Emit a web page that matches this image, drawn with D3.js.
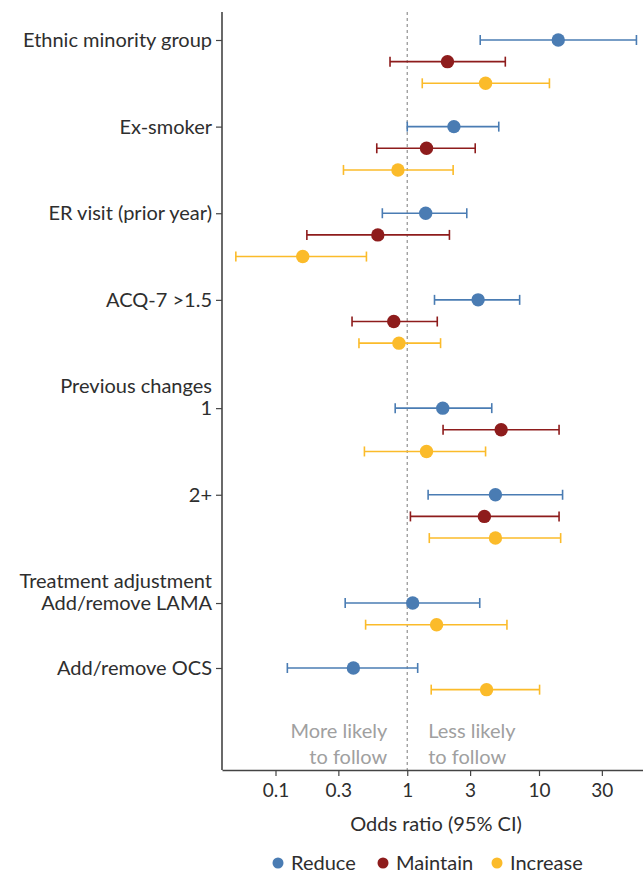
<!DOCTYPE html>
<html><head><meta charset="utf-8">
<script src="https://cdn.jsdelivr.net/npm/d3@7"></script>
<style>
body{margin:0;background:#fff;}
svg{display:block;font-family:Lato,"Noto Sans",sans-serif;}
</style></head>
<body>
<svg id="chart" width="643" height="873"></svg>
<script>
// ---- data ----
const seriesNames = ["Reduce", "Maintain", "Increase"];
const seriesColors = ["#4a7cb3", "#8e1c1c", "#fbbb2a"];
// row labels and their slot positions
const rowLabels = ["Ethnic minority group", "Ex-smoker", "ER visit (prior year)", "ACQ-7 >1.5", "1", "2+", "Add/remove LAMA", "Add/remove OCS"];
const rowSlots = [0, 4, 8, 12, 17, 21, 26, 29];
const headerLabels = ["Previous changes", "Treatment adjustment"];
const headerSlots = [16, 25];
// estimates: series index, slot, OR, lower, upper
const estSeries = [0,1,2, 0,1,2, 0,1,2, 0,1,2, 0,1,2, 0,1,2, 0,2, 0,2];
const estSlot   = [0,1,2, 4,5,6, 8,9,10, 12,13,14, 17,18,19, 21,22,23, 26,27, 29,30];
const estOR     = [14.0,2.02,3.93, 2.26,1.40,0.85, 1.38,0.598,0.161, 3.45,0.79,0.865, 1.86,5.16,1.40, 4.67,3.85,4.67, 1.10,1.67, 0.39,4.0];
const estLo     = [3.58,0.74,1.30, 1.00,0.587,0.328, 0.647,0.173,0.050, 1.61,0.381,0.430, 0.81,1.87,0.473, 1.44,1.057,1.47, 0.338,0.483, 0.123,1.52];
const estHi     = [54.9,5.55,12.0, 4.95,3.28,2.23, 2.83,2.09,0.490, 7.13,1.69,1.79, 4.38,14.2,3.93, 15.1,14.2,14.6, 3.55,5.71, 1.20,10.1];
const xTicks = [0.1, 0.3, 1, 3, 10, 30];
const xTickLabels = ["0.1", "0.3", "1", "3", "10", "30"];
const xTitle = "Odds ratio (95% CI)";
const leftNote = ["More likely", "to follow"];
const rightNote = ["Less likely", "to follow"];

// ---- drawing ----
const svg = d3.select("#chart");
const textColor = "#2e2e2e";
const font = "Lato,'Noto Sans',sans-serif";
const axisX = 222, axisY = 770, plotTop = 12, plotRight = 643;

const x = d3.scaleLog().domain([0.1, 10]).range([275.5, 539]);
x.domain([x.invert(axisX), x.invert(plotRight)]).range([axisX, plotRight]);
const y = d3.scaleLinear().domain([0, 29]).range([40, 668]);

// reference line at 1
svg.append("line")
  .attr("x1", x(1)).attr("x2", x(1)).attr("y1", plotTop).attr("y2", axisY)
  .attr("stroke", "#999").attr("stroke-width", 1.3).attr("stroke-dasharray", "3,3");

// notes
const noteG = svg.append("g").attr("fill", "#a0a0a0").style("font-size", "20px");
leftNote.forEach((t, i) => noteG.append("text").attr("x", x(1) - 20).attr("y", 738 + i * 26).attr("text-anchor", "end").text(t));
rightNote.forEach((t, i) => noteG.append("text").attr("x", x(1) + 21).attr("y", 738 + i * 26).attr("text-anchor", "start").text(t));

// x axis
const xAxis = d3.axisBottom(x).tickValues(xTicks).tickFormat((d, i) => xTickLabels[i]).tickSize(6).tickSizeOuter(0);
const gx = svg.append("g").attr("transform", `translate(0,${axisY})`).call(xAxis);
gx.select(".domain").attr("stroke", "#444").attr("stroke-width", 1.6);
gx.selectAll(".tick line").attr("stroke", "#444").attr("stroke-width", 1.2);
gx.selectAll(".tick text").attr("fill", textColor).style("font-size", "19px").style("font-family", font).attr("y", 9).attr("dy", "0.95em");

// y axis
const yAxis = d3.axisLeft(y).tickValues(rowSlots).tickFormat((d, i) => rowLabels[i]).tickSize(6).tickSizeOuter(0);
const gy = svg.append("g").attr("transform", `translate(${axisX},0)`).call(yAxis);
gy.select(".domain").attr("d", `M0,${plotTop}V${axisY}`).attr("stroke", "#444").attr("stroke-width", 1.6);
gy.selectAll(".tick line").attr("stroke", "#444").attr("stroke-width", 1.2);
gy.selectAll(".tick text").attr("fill", textColor).style("font-size", "20px").style("font-family", font).attr("x", -10);

// headers
headerLabels.forEach((t, i) => svg.append("text").attr("x", axisX - 10).attr("y", y(headerSlots[i])).attr("dy", "0.32em")
  .attr("text-anchor", "end").attr("fill", textColor).style("font-size", "20px").text(t));

// x title
svg.append("text").attr("x", 436).attr("y", 831).attr("text-anchor", "middle").attr("fill", textColor).style("font-size", "20px").text(xTitle);

// estimates
const capH = 5;
const est = estOR.map((v, i) => ({s: estSeries[i], slot: estSlot[i], or: v, lo: estLo[i], hi: estHi[i]}));
const eg = svg.append("g");
est.forEach(d => {
  const c = seriesColors[d.s], yy = y(d.slot);
  const g = eg.append("g").attr("stroke", c).attr("stroke-width", 1.6);
  g.append("line").attr("x1", x(d.lo)).attr("x2", x(d.hi)).attr("y1", yy).attr("y2", yy);
  g.append("line").attr("x1", x(d.lo)).attr("x2", x(d.lo)).attr("y1", yy - capH).attr("y2", yy + capH);
  g.append("line").attr("x1", x(d.hi)).attr("x2", x(d.hi)).attr("y1", yy - capH).attr("y2", yy + capH);
  eg.append("circle").attr("cx", x(d.or)).attr("cy", yy).attr("r", 6.7).attr("fill", c);
});

// legend
const legX = [278, 383, 497];
const lg = svg.append("g");
seriesNames.forEach((n, i) => {
  lg.append("circle").attr("cx", legX[i]).attr("cy", 863).attr("r", 5.5).attr("fill", seriesColors[i]);
  lg.append("text").attr("x", legX[i] + 13).attr("y", 863).attr("dy", "0.35em").attr("fill", textColor).style("font-size", "20px").text(n);
});
</script>
</body></html>
